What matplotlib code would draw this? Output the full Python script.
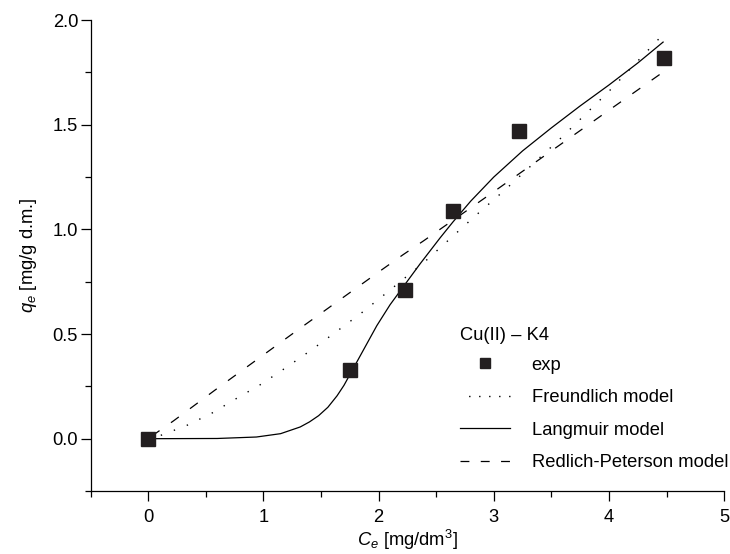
import matplotlib
matplotlib.use("Agg")
import matplotlib.pyplot as plt
from matplotlib.ticker import MultipleLocator
from matplotlib.lines import Line2D

plt.rcParams['font.family'] = ['Liberation Sans', 'DejaVu Sans']
plt.rcParams['mathtext.fontset'] = 'custom'
plt.rcParams['mathtext.rm'] = 'Liberation Sans'
plt.rcParams['mathtext.it'] = 'Liberation Sans:italic'
plt.rcParams['lines.scale_dashes'] = False

# experimental data
exp_x = [0.0, 1.75, 2.23, 2.65, 3.22, 4.48]
exp_y = [0.0, 0.33, 0.71, 1.09, 1.47, 1.82]

# model curves
freu_x = [0.11, 0.33, 0.55, 0.76, 0.98, 1.195, 1.415, 1.63, 1.85, 2.07, 2.40,
          2.61, 2.83, 3.10, 3.59, 4.00, 4.45]
freu_y = [0.016, 0.062, 0.121, 0.19, 0.26, 0.339, 0.423, 0.51, 0.60, 0.697,
          0.845, 0.95, 1.06, 1.19, 1.44, 1.66, 1.92]

lang_x = [0.03, 0.6, 0.94, 1.15, 1.32, 1.40, 1.48, 1.56, 1.64, 1.70, 1.75,
          1.85, 1.985, 2.1, 2.24, 2.36, 2.535, 2.645, 2.8, 3.0, 3.25, 3.5,
          3.75, 4.0, 4.25, 4.47]
lang_y = [0.0, 0.001, 0.008, 0.024, 0.056, 0.080, 0.110, 0.150, 0.205, 0.255,
          0.305, 0.405, 0.54, 0.64, 0.745, 0.835, 0.96, 1.035, 1.135, 1.25,
          1.375, 1.485, 1.59, 1.69, 1.795, 1.895]

rp_x = [0.03, 0.22, 0.58, 0.95, 1.31, 1.49, 2.01, 2.21, 2.39, 3.00, 3.50,
        4.04, 4.44]
rp_y = [0.012, 0.085, 0.232, 0.38, 0.524, 0.595, 0.80, 0.878, 0.945, 1.18,
        1.375, 1.585, 1.74]

legend_title = "Cu(II) \u2013 K4"
labels = ["exp", "Freundlich model", "Langmuir model", "Redlich-Peterson model"]
xticks = [0, 1, 2, 3, 4, 5]
yticks = [0.0, 0.5, 1.0, 1.5, 2.0]

FS = 13.2
W, H = 730, 554
INK = '#231f20'

fig = plt.figure(figsize=(7.3, 5.54), dpi=100)
ax = fig.add_axes([0.124, 0.1137, 0.868, 0.850])

ax.plot(exp_x, exp_y, linestyle='none', marker='s', markersize=10,
        color=INK, zorder=5)
ax.plot(freu_x, freu_y, color='black', lw=1.0, linestyle=(0, (1, 9)))
ax.plot(lang_x, lang_y, color='black', lw=0.9, linestyle='-')
ax.plot(rp_x, rp_y, color='black', lw=0.9, linestyle=(0, (7, 10)))

ax.set_xlim(-0.5, 5)
ax.set_ylim(-0.25, 2.0)
ax.set_xticks(xticks)
ax.set_xticklabels([str(t) for t in xticks])
ax.set_yticks(yticks)
ax.set_yticklabels([f"{t:.1f}" for t in yticks])
ax.xaxis.set_minor_locator(MultipleLocator(0.5))
ax.yaxis.set_minor_locator(MultipleLocator(0.25))

for s in ['top', 'right']:
    ax.spines[s].set_visible(False)
for s in ['left', 'bottom']:
    ax.spines[s].set_linewidth(0.9)

ax.tick_params(which='major', direction='out', length=7, width=0.9,
               labelsize=FS)
ax.tick_params(axis='y', which='major', pad=2)
ax.tick_params(axis='x', which='major', pad=6)
ax.tick_params(which='minor', direction='out', length=4, width=0.9)

ax.set_xlabel(r"$C_e$ [mg/dm$^{\mathrm{3}}$]", fontsize=FS, labelpad=1)
ax.set_ylabel(r"$q_e$ [mg/g d.m.]", fontsize=FS, labelpad=10)

handles = [
    Line2D([], [], linestyle='none', marker='s', markersize=7, color=INK),
    Line2D([], [], color='black', lw=1.0, linestyle=(1, (1, 6.2))),
    Line2D([], [], color='black', lw=0.9, linestyle='-'),
    Line2D([], [], color='black', lw=0.9, linestyle=(0, (6.4, 8.2))),
]
leg = fig.legend(handles, labels, loc='lower left',
                 bbox_to_anchor=(460 / W, 1 - 471 / H), frameon=False,
                 fontsize=FS, handlelength=2.75, handletextpad=1.15,
                 labelspacing=0.84, numpoints=1,
                 borderpad=0.0, borderaxespad=0.0)
fig.text(460 / W, 1 - 336 / H, legend_title, fontsize=FS, ha='left',
         va='center')

fig.savefig("out.png", dpi=100)
